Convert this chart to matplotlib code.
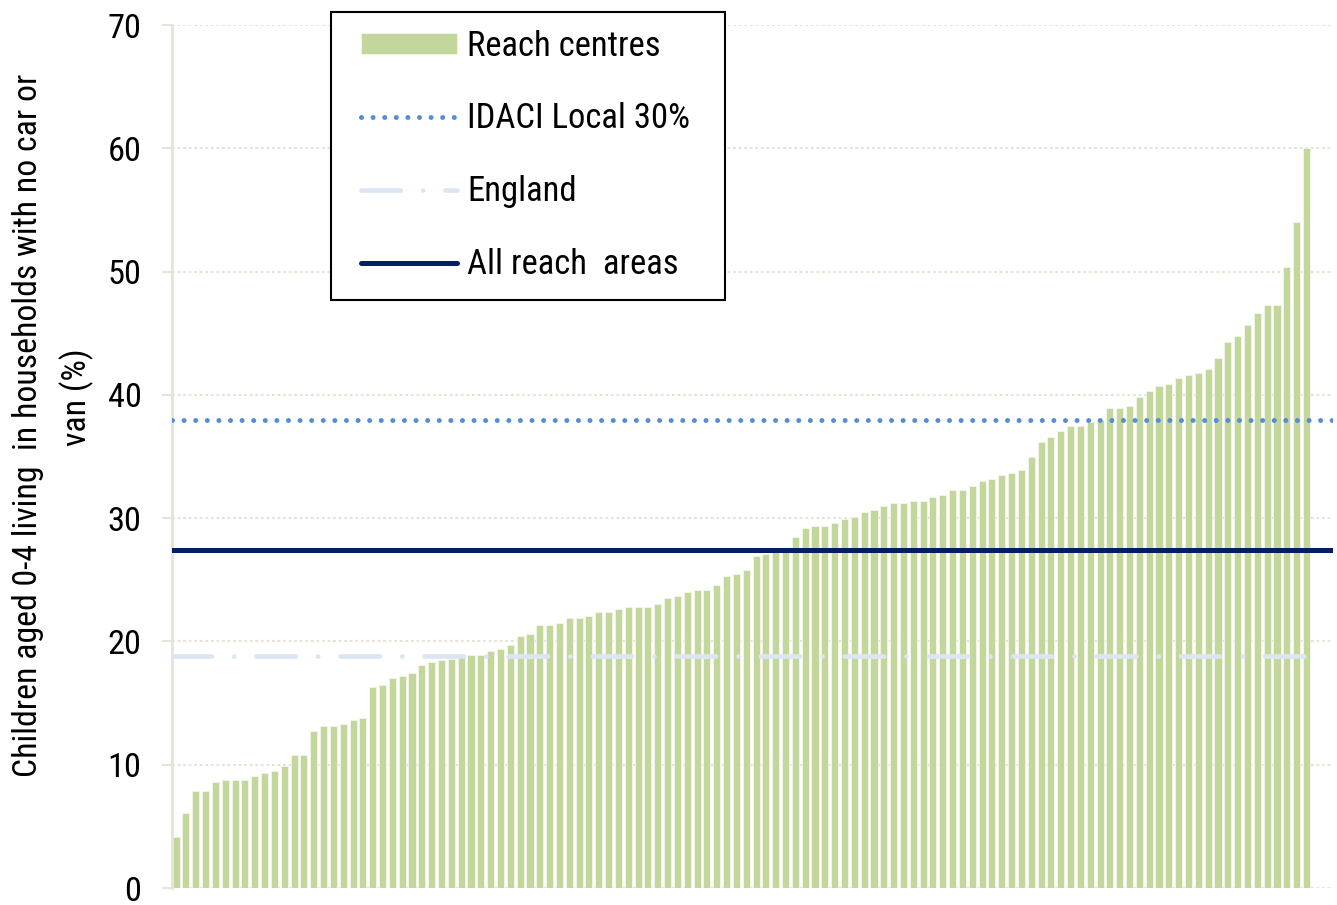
import numpy as np
import matplotlib.pyplot as plt
from matplotlib import font_manager
from matplotlib.font_manager import FontProperties
from matplotlib.lines import Line2D
from matplotlib.patches import Patch, Rectangle

plt.rcParams['lines.scale_dashes'] = False


def narrow_font():
    """Path of a condensed sans face if one is installed, else None."""
    prefs = ['Liberation Sans Narrow', 'Arial Narrow', 'Roboto Condensed',
             'Open Sans Condensed', 'Noto Sans Condensed', 'DejaVu Sans Condensed']
    regular = (400, 'normal', 'regular', 'book')
    fonts = font_manager.fontManager.ttflist
    for name in prefs:
        for f in fonts:
            if f.name == name and f.weight in regular and f.style == 'normal':
                return f.fname
    for f in fonts:
        if (f.stretch in ('condensed', 'semi-condensed')
                or 'Condensed' in f.fname or 'Narrow' in f.fname):
            if (f.weight in regular and f.style == 'normal'
                    and 'Mono' not in f.name and 'Serif' not in f.name):
                return f.fname
    return None


path = narrow_font()
if path:
    base_prop = FontProperties(fname=path)
else:
    base_prop = FontProperties(family=['Liberation Sans', 'DejaVu Sans'])

# % of children aged 0-4 in households with no car or van, one bar per reach area (sorted)
reach_centres = [
    4.1, 6.1, 7.9, 7.9, 8.6, 8.8, 8.8, 8.8, 9.1, 9.3,
    9.5, 9.9, 10.8, 10.8, 12.7, 13.1, 13.1, 13.3, 13.6, 13.8,
    16.3, 16.5, 17.0, 17.2, 17.4, 18.1, 18.3, 18.5, 18.6, 18.8,
    18.9, 18.9, 19.2, 19.4, 19.7, 20.4, 20.6, 21.3, 21.3, 21.5,
    21.9, 21.9, 22.1, 22.4, 22.4, 22.6, 22.8, 22.8, 22.8, 23.0,
    23.5, 23.7, 24.0, 24.2, 24.2, 24.6, 25.3, 25.5, 25.8, 26.9,
    27.1, 27.3, 27.5, 28.5, 29.2, 29.4, 29.4, 29.6, 29.9, 30.1,
    30.5, 30.7, 31.0, 31.2, 31.2, 31.4, 31.4, 31.7, 31.9, 32.3,
    32.3, 32.6, 33.0, 33.2, 33.5, 33.7, 33.9, 35.0, 36.2, 36.6,
    37.1, 37.5, 37.5, 37.8, 38.0, 38.9, 38.9, 39.1, 39.8, 40.3,
    40.7, 40.9, 41.4, 41.6, 41.8, 42.1, 43.0, 44.3, 44.8, 45.7,
    46.6, 47.3, 47.3, 50.4, 54.0, 60.0,
]
idaci_local_30 = 38.0
england = 18.8
all_reach_areas = 27.4

yticks = list(range(0, 71, 10))
ytick_labels = [str(v) for v in yticks]
ylabel_1 = 'Children aged 0-4 living  in households with no car or'
ylabel_2 = 'van (%)'
labels = ['Reach centres', 'IDACI Local 30%', 'England', 'All reach  areas']

bar_col = '#C3D69B'
bar_edge = '#F3F6EA'
idaci_col = '#558ED5'
eng_col = '#DCE6F2'
all_col = '#002060'
grid_col = '#E6E4D6'

dots = (0, (0.01, 8.34))
dash_dot = (0, (28.3, 16.1, 0.01, 16.1))

W, H = 1337, 905
fig = plt.figure(figsize=(W / 100, H / 100), dpi=100)
renderer = fig.canvas.get_renderer()


def text_box(s, size, rotation=0):
    probe = fig.text(0, 0, s, fontproperties=base_prop, fontsize=size,
                     rotation=rotation)
    bb = probe.get_window_extent(renderer)
    probe.remove()
    return bb


def sized(size):
    p = base_prop.copy()
    p.set_size(size)
    return p


# font sizes chosen so the text runs as long as it should
leg_size = 0.5 * (20 * 192 / text_box(labels[0], 20).width
                  + 20 * 225 / text_box(labels[1], 20).width)
tick_size = 20 * 34 / text_box('70', 20).width
ylab_size = 20 * 700 / text_box(ylabel_1, 20, rotation=90).height

ax = fig.add_axes([172 / W, 1 - 888 / H, (1333 - 172) / W, (888 - 25) / H])

x = np.arange(len(reach_centres))
ax.bar(x, reach_centres, width=0.72, color=bar_col, edgecolor=bar_edge,
       linewidth=0.6, zorder=2)

ax.axhline(idaci_local_30, color=idaci_col, lw=3.6, linestyle=dots,
           dash_capstyle='round', zorder=3)
ax.axhline(england, xmax=0.981, color=eng_col, lw=3.4, linestyle=dash_dot,
           dash_capstyle='round', zorder=3)
ax.axhline(all_reach_areas, color=all_col, lw=3.6, solid_capstyle='round',
           zorder=3)

ax.set_xlim(-0.42, 117.7)
ax.set_ylim(0, 70)
ax.set_yticks(yticks, labels=ytick_labels, fontproperties=sized(tick_size))
ax.set_xticks([])
ax.yaxis.grid(True, linestyle=(0, (2.0, 2.0)), color=grid_col, linewidth=1.5,
              zorder=0)
ax.set_axisbelow(True)
for side in ['top', 'right', 'bottom']:
    ax.spines[side].set_visible(False)
ax.spines['left'].set_color(grid_col)
ax.spines['left'].set_linewidth(2)
ax.tick_params(axis='y', direction='out', length=7, width=1.5, color=grid_col,
               pad=15)

# axis title, two lines placed separately
fig.text(28 / W, 1 - 425 / H, ylabel_1, rotation=90, ha='center', va='center',
         fontproperties=sized(ylab_size))
fig.text(77 / W, 1 - 397 / H, ylabel_2, rotation=90, ha='center', va='center',
         fontproperties=sized(ylab_size))

# legend with a plain black box
fig.add_artist(Rectangle((331 / W, 1 - 300 / H), (725 - 331) / W, (300 - 12) / H,
                         transform=fig.transFigure, facecolor='white',
                         edgecolor='black', lw=1.5, zorder=4))
handles = [
    Patch(facecolor=bar_col, edgecolor=bar_edge, linewidth=0.6),
    Line2D([], [], color=idaci_col, lw=3.6, linestyle=dots, dash_capstyle='round'),
    Line2D([], [], color=eng_col, lw=3.4, linestyle=dash_dot, dash_capstyle='round'),
    Line2D([], [], color=all_col, lw=3.6, solid_capstyle='round'),
]
fs_px = leg_size * 100 / 72
row_h = text_box('Reach centres', leg_size).height
leg = fig.legend(handles, labels, loc='upper left', prop=sized(leg_size),
                 bbox_to_anchor=(361 / W, 1 - (46 - row_h / 2) / H), frameon=False,
                 handlelength=96 / fs_px, handleheight=20 / fs_px,
                 handletextpad=10 / fs_px, labelspacing=(73 - row_h) / fs_px,
                 borderpad=0, borderaxespad=0)
leg.set_zorder(5)

fig.savefig('out.png', dpi=100)
